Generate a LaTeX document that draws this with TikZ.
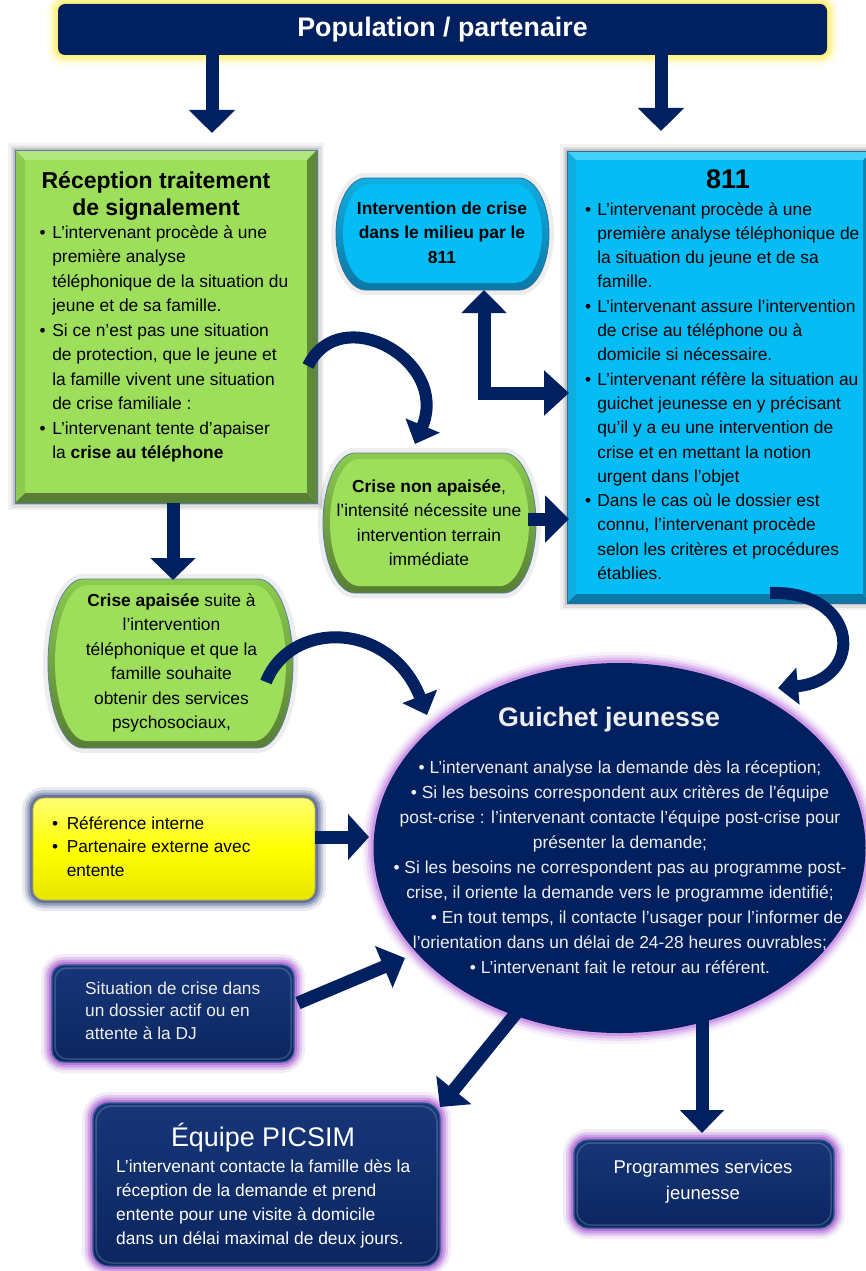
\documentclass[tikz,border=0pt]{standalone}
\usepackage{fontspec}
\setmainfont{Liberation Sans}
\usetikzlibrary{arrows.meta}

\definecolor{navy}{HTML}{002060}
\definecolor{boxtop}{HTML}{173678}
\definecolor{boxbot}{HTML}{0B2660}
\definecolor{boxedge}{HTML}{2E5A8E}
\definecolor{gface}{HTML}{9DDE5B}
\definecolor{glight}{HTML}{B2E77E}
\definecolor{gmid}{HTML}{8CCB4E}
\definecolor{gdark}{HTML}{5F8838}
\definecolor{gdarker}{HTML}{587D34}
\definecolor{gedge}{HTML}{5A7FA0}
\definecolor{bface}{HTML}{05BDF4}
\definecolor{blight}{HTML}{45D0FA}
\definecolor{bmid}{HTML}{10AEE0}
\definecolor{bdark}{HTML}{0A86B4}
\definecolor{bdarker}{HTML}{0B78A6}
\definecolor{bedge}{HTML}{2C6E9A}
\definecolor{glowpurple}{HTML}{A85CD2}
\definecolor{glowlilac}{HTML}{C98FE6}
\definecolor{glowyellow}{HTML}{FFF06A}
\definecolor{glowslate}{HTML}{46568A}
\definecolor{txtlight}{HTML}{EEEEEE}

\newcommand\capsule[6]{%
 \path[#6] ({(#1)+(#5)},{#2}) -- ({(#3)-(#5)},{#2})
  .. controls ({(#3)-0.448*(#5)},{#2}) and ({#3},{(#2)+0.224*((#4)-(#2))}) .. ({#3},{0.5*(#2)+0.5*(#4)})
  .. controls ({#3},{(#4)-0.224*((#4)-(#2))}) and ({(#3)-0.448*(#5)},{#4}) .. ({(#3)-(#5)},{#4})
  -- ({(#1)+(#5)},{#4})
  .. controls ({(#1)+0.448*(#5)},{#4}) and ({#1},{(#4)-0.224*((#4)-(#2))}) .. ({#1},{0.5*(#2)+0.5*(#4)})
  .. controls ({#1},{(#2)+0.224*((#4)-(#2))}) and ({(#1)+0.448*(#5)},{#2}) .. ({(#1)+(#5)},{#2}) -- cycle;}

\newcommand\bevcap[6]{%
  \capsule{#1}{#2}{#3}{#4}{#5}{draw=black, draw opacity=0.07, line width=10pt}
  \capsule{#1}{#2}{#3}{#4}{#5}{shade, top color=#6mid, bottom color=#6darker}
  \capsule{(#1)+7}{(#2)+6}{(#3)-7}{(#4)-7}{(#5)-3}{fill=#6face}
  \capsule{#1}{#2}{#3}{#4}{#5}{draw=#6edge, line width=0.8pt}}

\newcommand\bevrect[6]{%
  \foreach \w/\o in {14/0.05,9/0.08,4/0.12}{\draw[line width=\w pt, draw=black, draw opacity=\o] (#1,#2) rectangle (#3,#4);}
  \fill[#6light] (#1,#2) -- (#3,#2) -- ({(#3)-(#5)},{(#2)+(#5)}) -- ({(#1)+(#5)},{(#2)+(#5)}) -- cycle;
  \fill[#6mid] (#1,#2) -- ({(#1)+(#5)},{(#2)+(#5)}) -- ({(#1)+(#5)},{(#4)-(#5)}) -- (#1,#4) -- cycle;
  \fill[#6dark] (#3,#2) -- (#3,#4) -- ({(#3)-(#5)},{(#4)-(#5)}) -- ({(#3)-(#5)},{(#2)+(#5)}) -- cycle;
  \fill[#6darker] (#1,#4) -- (#3,#4) -- ({(#3)-(#5)},{(#4)-(#5)}) -- ({(#1)+(#5)},{(#4)-(#5)}) -- cycle;
  \fill[#6face] ({(#1)+(#5)},{(#2)+(#5)}) rectangle ({(#3)-(#5)},{(#4)-(#5)});
  \draw[#6edge, line width=0.8pt] (#1,#2) rectangle (#3,#4);}

\newcommand\glowrr[6]{%
  \foreach \w/\o in {22/0.12,16/0.22,11/0.36,6/0.6}{\draw[rounded corners=#5, line width=\w pt, draw=#6, draw opacity=\o] (#1,#2) rectangle (#3,#4);}}

\newcommand\navybox[5]{%
  \glowrr{#1}{#2}{#3}{#4}{#5}{glowpurple}
  \shade[rounded corners=#5, top color=boxtop, bottom color=boxbot] (#1,#2) rectangle (#3,#4);
  \draw[rounded corners=#5, draw=boxedge, line width=1.2pt] (#1,#2) rectangle (#3,#4);
  \draw[rounded corners=#5, draw=white, draw opacity=0.18, line width=1.5pt] ({(#1)+3},{(#2)+3}) rectangle ({(#3)-3},{(#4)-3});}

\tikzset{
  barrow/.style={draw=navy, line width=13pt, line join=miter},
  bhead/.style={-{Triangle[width=45pt,length=23pt]}},
  carrow/.style={draw=navy, line width=12pt, -{Triangle[width=36pt,length=20pt]}},
  body/.style={inner sep=0pt, font=\fontsize{17.4}{24.5}\selectfont},
  txt/.style={inner sep=0pt}
}

\begin{document}
\begin{tikzpicture}[x=1pt,y=-1pt]
\useasboundingbox (0,0) rectangle (866,1271);
\fill[white] (0,0) rectangle (866,1271);

% ---------- top box
\glowrr{58}{4}{827}{55}{7pt}{glowyellow}
\node[rounded corners=7pt, fill=navy, minimum width=769pt, minimum height=51pt, inner sep=0pt,
      text=white, font=\bfseries\fontsize{26.8}{30}\selectfont] (pop) at (442.5,29.5) {Population / partenaire};

% ---------- Reception box
\bevrect{15}{150}{317}{503}{10}{g}
\node[txt, anchor=base, font=\bfseries\fontsize{23}{27}\selectfont] (recT) at (156,188)
  {\begin{tabular}[t]{@{}c@{}}Réception traitement\\de signalement\end{tabular}};
\node[body, anchor=base west] (recB) at (39.5,238)
  {\begin{tabular}[t]{@{}l@{\hspace{6.5pt}}l@{}}
  • & L’intervenant procède à une\\
    & première analyse\\
    & téléphonique de la situation du\\
    & jeune et de sa famille.\\
  • & Si ce n’est pas une situation\\
    & de protection, que le jeune et\\
    & la famille vivent une situation\\
    & de crise familiale :\\
  • & L’intervenant tente d’apaiser\\
    & la \textbf{crise au téléphone}
  \end{tabular}};

% ---------- 811 box
\bevrect{567}{151}{872}{603}{9}{b}
\node[txt, anchor=base, font=\bfseries\fontsize{27}{30}\selectfont] (t811) at (728,188) {811};
\node[anchor=base west, inner sep=0pt, font=\fontsize{17.4}{24.3}\selectfont] (b811) at (585,215)
  {\begin{tabular}[t]{@{}l@{\hspace{6pt}}l@{}}
  • & L’intervenant procède à une\\
    & première analyse téléphonique de\\
    & la situation du jeune et de sa\\
    & famille.\\
  • & L’intervenant assure l’intervention\\
    & de crise au téléphone ou à\\
    & domicile si nécessaire.\\
  • & L’intervenant réfère la situation au\\
    & guichet jeunesse en y précisant\\
    & qu’il y a eu une intervention de\\
    & crise et en mettant la notion\\
    & urgent dans l’objet\\
  • & Dans le cas où le dossier est\\
    & connu, l’intervenant procède\\
    & selon les critères et procédures\\
    & établies.
  \end{tabular}};

% ---------- capsules
\bevcap{336}{178}{549}{290}{30}{b}
\node[body, anchor=base, font=\bfseries\fontsize{17.4}{24.5}\selectfont] (icm) at (442,214)
  {\begin{tabular}[t]{@{}c@{}}Intervention de crise\\dans le milieu par le\\811\end{tabular}};

\bevcap{323}{453}{536}{593}{32}{g}
\node[body, anchor=base] (cna) at (429,492)
  {\begin{tabular}[t]{@{}c@{}}\textbf{Crise non apaisée},\\l’intensité nécessite une\\intervention terrain\\immédiate\end{tabular}};

\bevcap{48}{579}{293}{748}{35}{g}
\node[body, anchor=base] (ca) at (171.5,606)
  {\begin{tabular}[t]{@{}c@{}}\textbf{Crise apaisée} suite à\\l’intervention\\téléphonique et que la\\famille souhaite\\obtenir des services\\psychosociaux,\end{tabular}};

% ---------- yellow box
\glowrr{33}{798}{315}{900}{11pt}{glowslate}
\shade[rounded corners=11pt, top color=yellow!55!white, bottom color=yellow!90!black, middle color=yellow] (33,798) rectangle (315,900);
\draw[rounded corners=11pt, draw=yellow!70!black, line width=0.8pt] (33,798) rectangle (315,900);
\node[body, anchor=base west, font=\fontsize{17.3}{23.5}\selectfont] (yel) at (52,829)
  {\begin{tabular}[t]{@{}l@{\hspace{8.5pt}}l@{}}
  • & Référence interne\\
  • & Partenaire externe avec\\
    & entente
  \end{tabular}};

% ---------- situation box
\navybox{52}{965}{294}{1062}{12pt}
\node[anchor=base west, inner sep=0pt, text=txtlight, font=\fontsize{17.3}{22.5}\selectfont] (sit) at (85,994)
  {\begin{tabular}[t]{@{}l@{}}Situation de crise dans\\un dossier actif ou en\\attente à la DJ\end{tabular}};

% ---------- ellipse Guichet jeunesse
\foreach \w/\o in {22/0.12,16/0.22,11/0.38,6/0.75}{\draw[line width=\w pt, draw=glowlilac, draw opacity=\o] (619.5,848) ellipse [x radius=246, y radius=185];}
\fill[navy] (619.5,848) ellipse [x radius=246, y radius=185];
\node[txt, anchor=base, text=txtlight, font=\bfseries\fontsize{26.8}{30}\selectfont] (gjT) at (609,726) {Guichet jeunesse};
\node[anchor=base, inner sep=0pt, text=txtlight, font=\fontsize{17.4}{25}\selectfont] (gjB) at (620,773)
  {\begin{tabular}[t]{@{}c@{}}
  • L’intervenant analyse la demande dès la réception;\\
  • Si les besoins correspondent aux critères de l’équipe\\
  post-crise : l’intervenant contacte l’équipe post-crise pour\\
  présenter la demande;\\
  • Si les besoins ne correspondent pas au programme post-\\
  crise, il oriente la demande vers le programme identifié;\\
  \hspace*{34pt}• En tout temps, il contacte l’usager pour l’informer de\\
  l’orientation dans un délai de 24-28 heures ouvrables;\\
  • L’intervenant fait le retour au référent.
  \end{tabular}};

% ---------- PICSIM box
\navybox{93}{1103}{440}{1266}{16pt}
\node[txt, anchor=base, text=white, font=\fontsize{26.9}{30}\selectfont] (picT) at (263,1146) {Équipe PICSIM};
\node[anchor=base west, inner sep=0pt, text=white, font=\fontsize{17.4}{24}\selectfont] (picB) at (116,1172)
  {\begin{tabular}[t]{@{}l@{}}L’intervenant contacte la famille dès la\\réception de la demande et prend\\entente pour une visite à domicile\\dans un délai maximal de deux jours.\end{tabular}};

% ---------- Programmes box
\navybox{574}{1140}{834}{1228}{14pt}
\node[anchor=base, inner sep=0pt, text=white, font=\fontsize{18.5}{26}\selectfont] (prog) at (703,1173)
  {\begin{tabular}[t]{@{}c@{}}Programmes services\\jeunesse\end{tabular}};

% ---------- connector end points
\coordinate (popL) at (212,55);   \coordinate (recIn) at (212,133);
\coordinate (popR) at (661,55);   \coordinate (in811) at (661,131);
\coordinate (recOut) at (173,503); \coordinate (caIn) at (173,580);
\coordinate (icmIn) at (484,290); \coordinate (r811In) at (569,393);
\coordinate (cnaOut) at (528,519); \coordinate (r811In2) at (569,519);
\coordinate (recArc) at (308,366); \coordinate (cnaIn) at (415,444);
\coordinate (caArc) at (266,682);  \coordinate (gjInL) at (427,715);
\coordinate (arc811) at (770,593); \coordinate (gjInR) at (778,688);
\coordinate (yelOut) at (315,837); \coordinate (gjInY) at (369,837);
\coordinate (sitOut) at (298,1003); \coordinate (gjInS) at (405,958);
\coordinate (gjOutP) at (517,1012); \coordinate (picIn) at (440,1107);
\coordinate (gjOutQ) at (702,1018); \coordinate (progIn) at (702,1133);

% ---------- straight block arrows
\draw[barrow, bhead] (popL) -- (recIn);
\draw[barrow, bhead] (popR) -- (in811);
\draw[barrow, -{Triangle[width=44pt,length=22pt]}] (recOut) -- (caIn);
\draw[barrow, {Triangle[width=44pt,length=23pt]}-{Triangle[width=44pt,length=25pt]}] (icmIn) |- (r811In);
\draw[barrow, -{Triangle[width=46pt,length=24pt]}] (cnaOut) -- (r811In2);
\draw[barrow, -{Triangle[width=45pt,length=21pt]}] (yelOut) -- (gjInY);
\draw[barrow, -{Triangle[width=44pt,length=23pt]}] (sitOut) -- (gjInS);
\draw[barrow, -{Triangle[width=44pt,length=22pt]}] (gjOutP) -- (picIn);
\draw[barrow, -{Triangle[width=43pt,length=23pt]}] (gjOutQ) -- (progIn);

% ---------- curved arrows
\draw[carrow] (recArc) .. controls (340,300) and (450,360) .. (cnaIn);
\draw[carrow] (caArc) .. controls (290,620) and (390,620) .. (gjInL);
\draw[carrow] (arc811) .. controls (860,590) and (865,680) .. (gjInR);
\end{tikzpicture}
\end{document}
